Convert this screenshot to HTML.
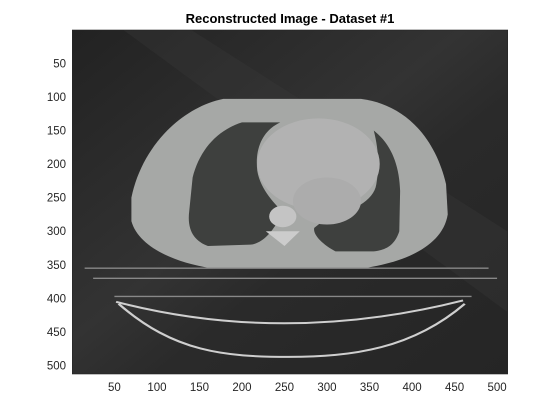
<!DOCTYPE html>
<html><head><meta charset="utf-8"><style>
html,body{margin:0;padding:0;background:#fff;}
svg{display:block;font-family:"Liberation Sans",sans-serif;}
</style></head><body>
<svg width="560" height="420" viewBox="0 0 560 420">
<defs>
<linearGradient id="bg" x1="0" y1="0" x2="1" y2="1">
<stop offset="0" stop-color="#222"/><stop offset="0.45" stop-color="#333"/><stop offset="0.6" stop-color="#2a2a2a"/><stop offset="1" stop-color="#252525"/>
</linearGradient>
<clipPath id="clip"><rect x="0.5" y="0.5" width="512" height="512"/></clipPath>
</defs>
<text x="290" y="23" text-anchor="middle" font-size="13" font-weight="bold" fill="#000">Reconstructed Image - Dataset #1</text>
<g id="img" transform="translate(72.3,30) scale(0.8504,0.6719) translate(-0.5,-0.5)" clip-path="url(#clip)">
<rect x="0.5" y="0.5" width="512" height="512" fill="url(#bg)"/>
<path d="M140,0 L512,300 L512,420 L60,0Z" fill="#3a3a3a" opacity="0.35"/>
<path d="M178,103 L340,103 C395,112 428,165 440,230 L442,275 C436,322 392,346 343,355 L164,355 C118,346 78,322 70,285 L70,250 C82,175 128,116 178,103 Z" fill="#a6a8a6"/>
<path d="M200,138 L245,138 C225,150 215,175 218,210 C222,240 240,260 250,275 L240,290 C235,300 225,318 210,320 L160,322 C145,315 135,300 138,270 L142,220 C150,180 170,150 200,138 Z" fill="#3e403e"/>
<path d="M355,150 C375,170 385,200 386,240 L385,300 C380,320 370,328 355,330 L310,330 C295,320 283,305 285,295 L300,280 C330,270 355,255 358,230 C362,200 360,175 355,150 Z" fill="#3e403e"/>
<ellipse cx="290" cy="200" rx="72" ry="68" fill="#b2b2b2"/>
<ellipse cx="300" cy="255" rx="40" ry="35" fill="#acacac"/>
<circle cx="248" cy="278" r="16" fill="#c4c4c4"/>
<path d="M228,300 L268,300 L250,322 Z" fill="#cccccc"/>
<g stroke="#888" stroke-width="2" fill="none">
<line x1="15" y1="355" x2="490" y2="355"/>
<line x1="25" y1="370" x2="500" y2="370"/>
<line x1="50" y1="397" x2="470" y2="397"/>
</g>
<g stroke="#cfcfcf" stroke-width="3" fill="none">
<path d="M52,405 Q250,470 460,403"/>
<path d="M55,408 C120,480 180,487 255,487 C330,487 400,475 462,408"/>
</g>
</g>
<rect x="72.3" y="30" width="435.4" height="344" fill="none" stroke="#262626" stroke-width="0.6"/>
<g id="xt" font-size="11.5" fill="#262626" text-anchor="middle"></g>
<g id="yt" font-size="11.5" fill="#262626" text-anchor="end"></g>
<script>
const xTicks=[50,100,150,200,250,300,350,400,450,500];
const yTicks=[50,100,150,200,250,300,350,400,450,500];
const sx=v=>72.3+(v-0.5)*0.8504, sy=v=>30+(v-0.5)*0.6719;
const ns="http://www.w3.org/2000/svg";
const xg=document.getElementById('xt'), yg=document.getElementById('yt');
xTicks.forEach(v=>{
 const t=document.createElementNS(ns,'text');
 t.setAttribute('x',sx(v)); t.setAttribute('y',391); t.textContent=v;
 
 
 xg.appendChild(t);
});
yTicks.forEach(v=>{
 const t=document.createElementNS(ns,'text');
 t.setAttribute('x',66); t.setAttribute('y',sy(v)+4); t.textContent=v;
 
 
 yg.appendChild(t);
});
</script>
</svg>
</body></html>
